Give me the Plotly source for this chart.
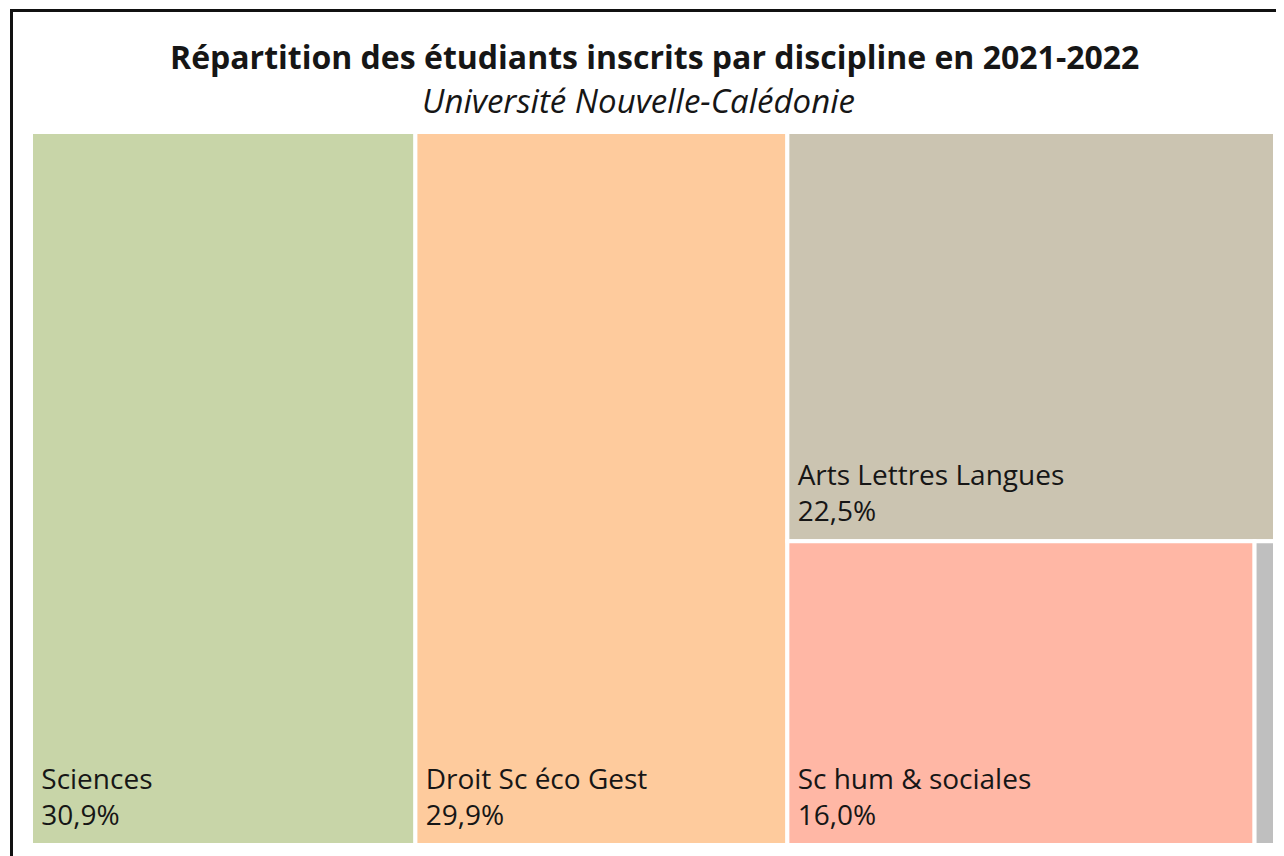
import plotly.graph_objects as go

labels = ["Sciences", "Droit Sc éco Gest", "Arts Lettres Langues", "Sc hum & sociales", "Autres"]
values = [30.9, 29.9, 22.5, 16.0, 0.7]
colors = ["#C8D5A8", "#FECB9D", "#CBC4B1", "#FFB7A5", "#BFBFBF"]
NB = "\u00a0"
templates = [NB + "%{label}<br>" + NB + "%{value:.1f}%"
             + "<sub><span style='font-size:38px'>" + NB + "</span></sub>"] * 4 + [""]

W, H = 1284, 856
OFF = 8  # page offset of the figure
# plot area in page pixels
PX0, PX1, PY0, PY1 = 31, 1275, 132, 845
L, R = PX0 - OFF, W - (PX1 - OFF)
T, B = PY0 - OFF, H - (PY1 - OFF)
pw, ph = W - L - R, H - T - B

def px(x):
    return (x - OFF - L) / pw

def py(y):
    return (H - B - (y - OFF)) / ph

fig = go.Figure(go.Treemap(
    labels=labels,
    parents=[""] * len(labels),
    values=values,
    marker=dict(colors=colors, line=dict(color="white", width=4),
                pad=dict(t=0, l=0, r=0, b=0)),
    texttemplate=templates,
    textposition="bottom left",
    textfont=dict(family="Open Sans", size=28, color="#161616"),
    hoverinfo="label+value",
    tiling=dict(pad=0),
    pathbar=dict(visible=False),
    root=dict(color="white"),
))

fig.update_layout(
    width=W, height=H,
    margin=dict(l=L, r=R, t=T, b=B),
    paper_bgcolor="white",
    separators=", ",
    font=dict(family="Open Sans", color="#161616"),
    uniformtext=dict(minsize=14, mode="hide"),
    annotations=[
        dict(text="<b>Répartition des étudiants inscrits par discipline en 2021-2022</b>",
             x=px(654), y=py(57), xref="paper", yref="paper", showarrow=False,
             xanchor="center", yanchor="middle", font=dict(size=32, color="#161616")),
        dict(text="<i>Université Nouvelle-Calédonie</i>",
             x=px(638), y=py(100), xref="paper", yref="paper", showarrow=False,
             xanchor="center", yanchor="middle", font=dict(size=33, color="#161616")),
    ],
    shapes=[
        dict(type="rect", xref="paper", yref="paper",
             x0=px(11.5), x1=px(1310), y0=py(900), y1=py(10.5),
             line=dict(color="#111111", width=3), fillcolor="rgba(0,0,0,0)", layer="above"),
    ],
)

fig.write_html("out.html")
